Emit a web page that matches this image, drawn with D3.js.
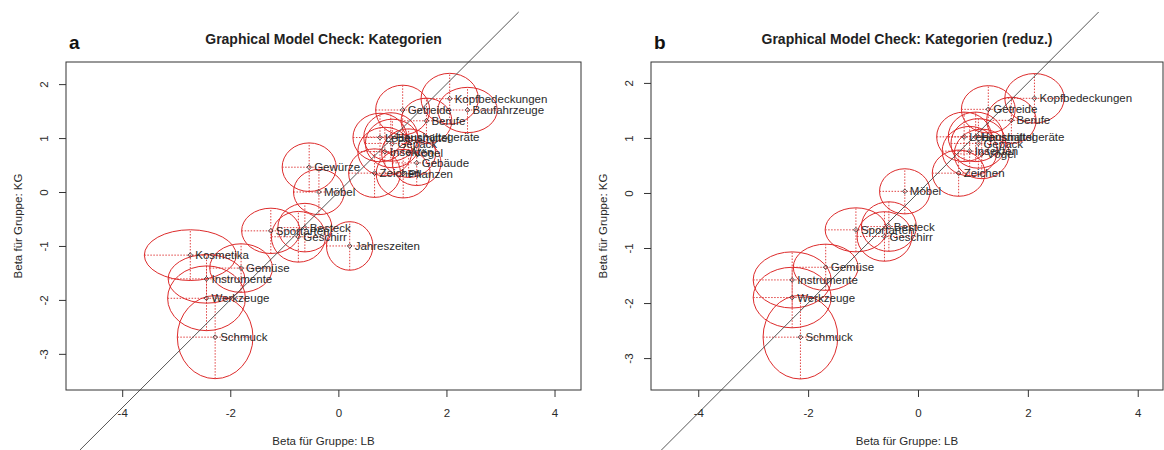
<!DOCTYPE html>
<html>
<head>
<meta charset="utf-8">
<script src="https://cdn.jsdelivr.net/npm/d3@7"></script>
<style>
  body { margin: 0; background: #fff; }
  svg { display: block; font-family: Arial, "Liberation Sans", sans-serif; }
</style>
</head>
<body>
<svg id="chart" width="1164" height="450"></svg>
<script>
// panel a: all categories (beta LB vs beta KG, with conf. half widths)
var categoriesA = ['Kopfbedeckungen', 'Baufahrzeuge', 'Getreide', 'Berufe', 'Lebensmittel',
  'Haushaltsgeräte', 'Gepäck', 'Insekten', 'Vögel', 'Gebäude', 'Zeichen', 'Pflanzen',
  'Gewürze', 'Möbel', 'Sportarten', 'Besteck', 'Geschirr', 'Jahreszeiten', 'Kosmetika',
  'Gemüse', 'Instrumente', 'Werkzeuge', 'Schmuck'];
var betaLbA = [2.06, 2.39, 1.19, 1.63, 0.77, 0.97, 1.00, 0.86, 1.30, 1.45, 0.67, 1.20,
  -0.54, -0.36, -1.25, -0.62, -0.74, 0.21, -2.74, -1.80, -2.44, -2.44, -2.28];
var betaKgA = [1.73, 1.52, 1.52, 1.32, 1.01, 1.02, 0.90, 0.75, 0.72, 0.54, 0.35, 0.34,
  0.46, 0.00, -0.72, -0.66, -0.83, -1.00, -1.17, -1.41, -1.61, -1.97, -2.69];
var ciLbA = [0.53, 0.55, 0.50, 0.47, 0.50, 0.50, 0.50, 0.50, 0.50, 0.45, 0.48, 0.50,
  0.50, 0.47, 0.54, 0.50, 0.50, 0.43, 0.85, 0.58, 0.71, 0.72, 0.70];
var ciKgA = [0.47, 0.42, 0.46, 0.42, 0.45, 0.45, 0.45, 0.45, 0.45, 0.42, 0.45, 0.45,
  0.45, 0.42, 0.42, 0.45, 0.47, 0.45, 0.47, 0.45, 0.45, 0.60, 0.77];

// panel b: reduced set of categories
var categoriesB = ['Kopfbedeckungen', 'Getreide', 'Berufe', 'Lebensmittel', 'Haushaltsgeräte',
  'Gepäck', 'Insekten', 'Vögel', 'Zeichen', 'Möbel', 'Sportarten', 'Besteck', 'Geschirr',
  'Gemüse', 'Instrumente', 'Werkzeuge', 'Schmuck'];
var betaLbB = [2.12, 1.28, 1.70, 0.84, 1.05, 1.10, 0.94, 1.16, 0.74, -0.24, -1.13, -0.53,
  -0.61, -1.68, -2.29, -2.29, -2.14];
var betaKgB = [1.72, 1.52, 1.32, 1.02, 1.02, 0.90, 0.76, 0.71, 0.36, 0.03, -0.67, -0.61,
  -0.79, -1.35, -1.58, -1.90, -2.62];
var ciLbB = [0.54, 0.49, 0.45, 0.50, 0.50, 0.50, 0.50, 0.50, 0.48, 0.46, 0.56, 0.50,
  0.50, 0.59, 0.71, 0.71, 0.68];
var ciKgB = [0.45, 0.43, 0.42, 0.45, 0.45, 0.45, 0.45, 0.45, 0.42, 0.41, 0.40, 0.45,
  0.45, 0.42, 0.51, 0.55, 0.76];

var xTicks = [-4, -2, 0, 2, 4];
var yTicks = [-3, -2, -1, 0, 1, 2];
var xTitle = 'Beta für Gruppe: LB';
var yTitle = 'Beta für Gruppe: KG';

var svg = d3.select('#chart');
var red = '#dd2b2b';
var ink = '#2a2a2a';
// R style tick text: plain integers with ascii minus
var tickFmt = d => String(d);

function renderPanel(cfg) {
  var x = d3.scaleLinear().domain(cfg.xDomain).range([cfg.left, cfg.right]);
  var y = d3.scaleLinear().domain(cfg.yDomain).range([cfg.bottom, cfg.top]);
  var items = cfg.names.map(function(name, i) {
    return {name: name, lb: cfg.lb[i], kg: cfg.kg[i], clb: cfg.clb[i], ckg: cfg.ckg[i]};
  });
  var g = svg.append('g').attr('class', 'panel');

  // conf. ellipses
  g.selectAll('ellipse').data(items).enter().append('ellipse')
    .attr('cx', d => x(d.lb))
    .attr('cy', d => y(d.kg))
    .attr('rx', d => x(d.lb + d.clb) - x(d.lb))
    .attr('ry', d => y(d.kg) - y(d.kg + d.ckg))
    .attr('fill', 'none')
    .attr('stroke', red)
    .attr('stroke-width', 1);

  // dotted single-parameter intervals
  g.selectAll('line.hci').data(items).enter().append('line')
    .attr('class', 'hci')
    .attr('x1', d => x(d.lb - d.clb)).attr('x2', d => x(d.lb + d.clb))
    .attr('y1', d => y(d.kg)).attr('y2', d => y(d.kg));
  g.selectAll('line.vci').data(items).enter().append('line')
    .attr('class', 'vci')
    .attr('x1', d => x(d.lb)).attr('x2', d => x(d.lb))
    .attr('y1', d => y(d.kg - d.ckg)).attr('y2', d => y(d.kg + d.ckg));
  g.selectAll('line.hci, line.vci')
    .attr('stroke', red)
    .attr('stroke-width', 0.9)
    .attr('stroke-dasharray', '1.5,1.5');

  // identity line, runs over the whole figure height
  var lo = y.invert(450), hi = y.invert(12);
  g.append('line')
    .attr('x1', x(lo)).attr('y1', y(lo))
    .attr('x2', x(hi)).attr('y2', y(hi))
    .attr('stroke', '#444')
    .attr('stroke-width', 0.9);

  // points
  g.selectAll('path.pt').data(items).enter().append('path')
    .attr('class', 'pt')
    .attr('d', d3.symbol(d3.symbolSquare, 11))
    .attr('transform', d => 'translate(' + x(d.lb) + ',' + y(d.kg) + ') rotate(45)')
    .attr('fill', 'none')
    .attr('stroke', '#333')
    .attr('stroke-width', 0.8);

  // labels to the right of points
  g.selectAll('text.lbl').data(items).enter().append('text')
    .attr('class', 'lbl')
    .attr('x', d => x(d.lb) + 5)
    .attr('y', d => y(d.kg))
    .attr('dy', '0.36em')
    .attr('font-size', 11.5)
    .attr('fill', ink)
    .text(d => d.name);

  // box
  g.append('rect')
    .attr('x', cfg.left).attr('y', cfg.top)
    .attr('width', cfg.right - cfg.left).attr('height', cfg.bottom - cfg.top)
    .attr('fill', 'none')
    .attr('stroke', '#333')
    .attr('stroke-width', 1);

  // axes
  var xAxis = g.append('g')
    .attr('transform', 'translate(0,' + cfg.bottom + ')')
    .call(d3.axisBottom(x).tickValues(xTicks).tickFormat(tickFmt).tickSize(7).tickSizeOuter(0));
  xAxis.select('.domain').remove();
  xAxis.selectAll('text').attr('y', 19).attr('font-size', 11.5).attr('fill', ink)
    .attr('font-family', null);
  var yAxis = g.append('g')
    .attr('transform', 'translate(' + cfg.left + ',0)')
    .call(d3.axisLeft(y).tickValues(yTicks).tickFormat(tickFmt).tickSize(7).tickSizeOuter(0));
  yAxis.select('.domain').remove();
  yAxis.selectAll('text')
    .attr('x', 0).attr('dy', 0)
    .attr('transform', 'translate(-18,0) rotate(-90)')
    .attr('text-anchor', 'middle')
    .attr('font-size', 11.5).attr('fill', ink)
    .attr('font-family', null);
  g.selectAll('.tick line').attr('stroke', '#333');

  var cx = (cfg.left + cfg.right) / 2;
  var cy = (cfg.top + cfg.bottom) / 2;
  g.append('text')
    .attr('x', cx).attr('y', 445)
    .attr('text-anchor', 'middle')
    .attr('font-size', 11.5).attr('fill', ink)
    .text(xTitle);
  g.append('text')
    .attr('transform', 'translate(' + (cfg.left - 44) + ',' + cy + ') rotate(-90)')
    .attr('text-anchor', 'middle')
    .attr('font-size', 11.5).attr('fill', ink)
    .text(yTitle);

  // title and panel letter
  g.append('text')
    .attr('x', cx).attr('y', 44)
    .attr('text-anchor', 'middle')
    .attr('font-size', 14).attr('font-weight', 'bold').attr('fill', '#222')
    .text(cfg.title);
  g.append('text')
    .attr('x', cfg.left + 3).attr('y', 49)
    .attr('font-size', 19).attr('font-weight', 'bold').attr('fill', '#111')
    .text(cfg.letter);
}

renderPanel({
  names: categoriesA, lb: betaLbA, kg: betaKgA, clb: ciLbA, ckg: ciKgA,
  left: 66, right: 581, top: 62, bottom: 390,
  xDomain: [-5.04, 4.49], yDomain: [-3.67, 2.41],
  title: 'Graphical Model Check: Kategorien', letter: 'a'
});
renderPanel({
  names: categoriesB, lb: betaLbB, kg: betaKgB, clb: ciLbB, ckg: ciKgB,
  left: 651, right: 1163, top: 62, bottom: 390,
  xDomain: [-4.86, 4.46], yDomain: [-3.58, 2.38],
  title: 'Graphical Model Check: Kategorien (reduz.)', letter: 'b'
});
</script>
</body>
</html>
